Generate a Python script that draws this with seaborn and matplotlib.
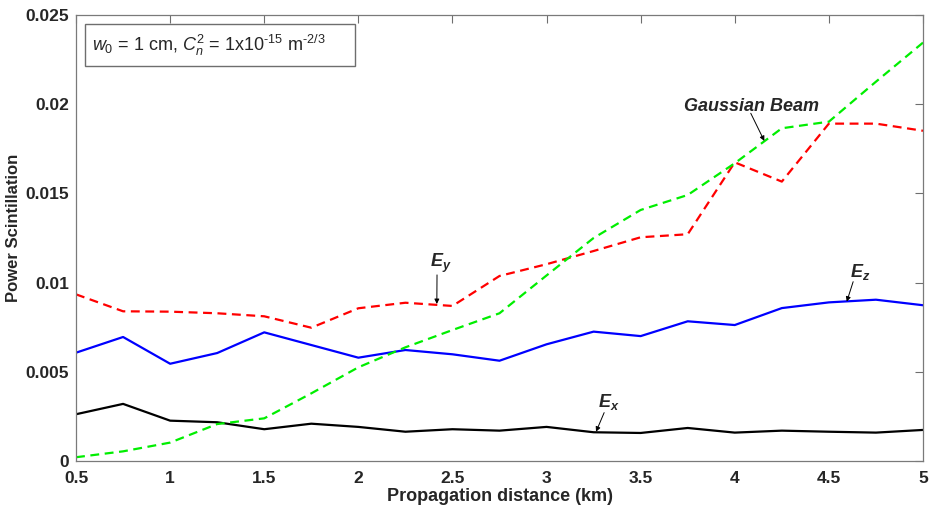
import matplotlib
matplotlib.use("Agg")
import matplotlib.pyplot as plt
from matplotlib.patches import Rectangle
import seaborn as sns
import pandas as pd

# Propagation distance (km)
distance = [0.5, 0.75, 1.0, 1.25, 1.5, 1.75, 2.0, 2.25, 2.5, 2.75,
            3.0, 3.25, 3.5, 3.75, 4.0, 4.25, 4.5, 4.75, 5.0]

# Power scintillation of each field component and of the Gaussian beam
ex = [0.00262, 0.00320, 0.00226, 0.00217, 0.00178, 0.00209, 0.00191, 0.00164, 0.00178, 0.00170,
      0.00191, 0.00161, 0.00157, 0.00185, 0.00159, 0.00170, 0.00164, 0.00159, 0.00174]
ez = [0.00607, 0.00695, 0.00545, 0.00605, 0.00721, 0.00650, 0.00579, 0.00622, 0.00598, 0.00562,
      0.00654, 0.00725, 0.00700, 0.00783, 0.00762, 0.00857, 0.00889, 0.00904, 0.00873]
ey = [0.00934, 0.00839, 0.00837, 0.00828, 0.00811, 0.00747, 0.00856, 0.00887, 0.00869, 0.01037,
      0.01103, 0.01177, 0.01254, 0.01271, 0.01674, 0.01566, 0.01891, 0.01891, 0.01851]
gaussian = [0.00021, 0.00054, 0.00103, 0.00207, 0.00239, 0.00379, 0.00525, 0.00637, 0.00734, 0.00828,
            0.01040, 0.01250, 0.01407, 0.01491, 0.01669, 0.01865, 0.01902, 0.02126, 0.02345]

x_ticks = [0.5, 1, 1.5, 2, 2.5, 3, 3.5, 4, 4.5, 5]
x_tick_labels = ["0.5", "1", "1.5", "2", "2.5", "3", "3.5", "4", "4.5", "5"]
y_ticks = [0, 0.005, 0.01, 0.015, 0.02, 0.025]
y_tick_labels = ["0", "0.005", "0.01", "0.015", "0.02", "0.025"]

sns.set_theme(style="white")
plt.rcParams["font.family"] = ["Liberation Sans", "DejaVu Sans"]
plt.rcParams["mathtext.fontset"] = "custom"
plt.rcParams["mathtext.rm"] = "Liberation Sans"
plt.rcParams["mathtext.it"] = "Liberation Sans:italic"
plt.rcParams["mathtext.bf"] = "Liberation Sans:bold:italic"

fig = plt.figure(figsize=(9.34, 5.15), dpi=100)
ax = fig.add_axes([0.0814, 0.1049, 0.9068, 0.8660])

df = pd.DataFrame({"d": distance, "ex": ex, "ez": ez, "ey": ey, "gb": gaussian})
dash = (0, (4, 2.5))
sns.lineplot(data=df, x="d", y="ex", ax=ax, color="black", lw=1.6)
sns.lineplot(data=df, x="d", y="ez", ax=ax, color="#0000ff", lw=1.6)
sns.lineplot(data=df, x="d", y="ey", ax=ax, color="#ff0000", lw=1.6, linestyle=dash)
sns.lineplot(data=df, x="d", y="gb", ax=ax, color="#00ee00", lw=1.6, linestyle=dash)

ax.set_xlim(0.5, 5)
ax.set_ylim(0, 0.025)
ax.set_xticks(x_ticks)
ax.set_xticklabels(x_tick_labels)
ax.set_yticks(y_ticks)
ax.set_yticklabels(y_tick_labels)
ax.tick_params(direction="in", length=6, width=0.8, color="#6e6e6e",
               top=True, right=True, labelsize=12.5)
ax.tick_params(axis="x", pad=7)
ax.tick_params(axis="y", pad=5)
for lab in ax.get_xticklabels() + ax.get_yticklabels():
    lab.set_fontweight("bold")
for sp in ax.spines.values():
    sp.set_color("#7a7a7a")
    sp.set_linewidth(0.9)

ax.set_xlabel("Propagation distance (km)", fontsize=13, fontweight="bold", labelpad=2)
ax.set_ylabel("Power Scintillation", fontsize=12, fontweight="bold")
ax.yaxis.set_label_coords(-0.0645, 0.522)

# Parameter box in the upper left corner
ax.add_patch(Rectangle((0.0106, 0.8857), 0.3188, 0.0941, transform=ax.transAxes,
                       facecolor="white", edgecolor="#6e6e6e", lw=1.0, zorder=5))
ax.text(0.0190, 0.9327,
        r"$w_0$ = 1 cm, $C_n^2$ = 1x10$^{\text{-}15}$ m$^{\text{-}2/3}$",
        transform=ax.transAxes, fontsize=13, va="center", ha="left", zorder=6)

# Curve labels with pointers
arrow = dict(arrowstyle="-|>", color="black", lw=0.7, mutation_scale=7, shrinkA=0, shrinkB=0)
labels = [
    (r"$\mathbf{E}_\mathbf{y}$", (2.381, 0.01087), (2.418, 0.01043), (2.417, 0.00880)),
    (r"$\mathbf{E}_\mathbf{x}$", (3.274, 0.00303), (3.306, 0.00271), (3.263, 0.00164)),
    (r"$\mathbf{E}_\mathbf{z}$", (4.613, 0.01031), (4.629, 0.01005), (4.595, 0.00893)),
    (r"$\mathbf{Gaussian\ Beam}$", (3.725, 0.01962), (4.085, 0.01949), (4.157, 0.01794)),
]
for text, pos, start, tip in labels:
    ax.text(pos[0], pos[1], text, fontsize=13, ha="left", va="baseline")
    ax.annotate("", xy=tip, xytext=start, arrowprops=arrow)

fig.savefig("out.png", dpi=100)
